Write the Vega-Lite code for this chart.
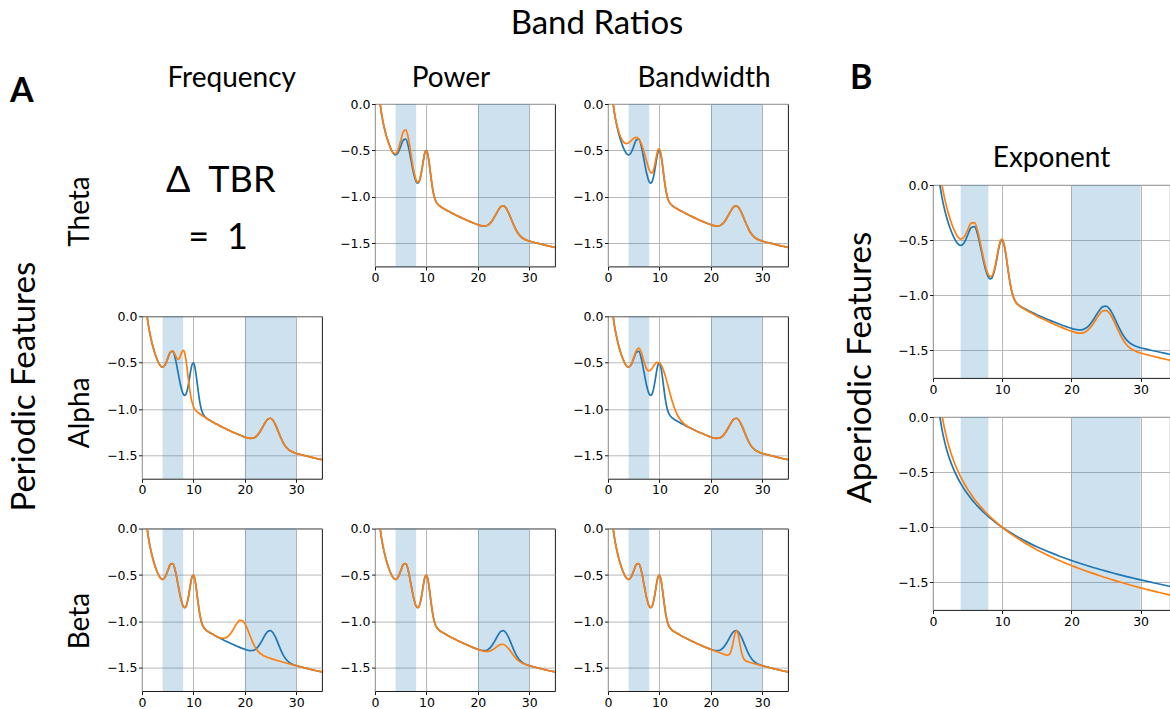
{
  "$schema": "https://vega.github.io/schema/vega-lite/v6.json",
  "background": "white",
  "padding": 0,
  "bounds": "flush",
  "spacing": 10,
  "datasets": {
    "bands": [{"f": 4, "f2": 8}, {"f": 20, "f2": 30}],
    "base": [
      {"f":1,"y":0.0},{"f":1.25,"y":-0.097},{"f":1.5,"y":-0.176},{"f":2,"y":-0.301},{"f":2.5,"y":-0.397},{"f":3,"y":-0.473},{"f":3.5,"y":-0.527},{"f":4,"y":-0.548},{"f":4.5,"y":-0.523},{"f":5,"y":-0.456},{"f":5.5,"y":-0.387},{"f":6,"y":-0.378},{"f":6.5,"y":-0.460},{"f":7,"y":-0.602},{"f":7.5,"y":-0.743},{"f":8,"y":-0.835},{"f":8.25,"y":-0.852},{"f":8.5,"y":-0.844},{"f":8.75,"y":-0.808},{"f":9,"y":-0.744},{"f":9.25,"y":-0.661},{"f":9.5,"y":-0.576},{"f":9.75,"y":-0.516},{"f":10,"y":-0.500},{"f":10.25,"y":-0.538},{"f":10.5,"y":-0.621},{"f":10.75,"y":-0.728},{"f":11,"y":-0.836},{"f":11.25,"y":-0.927},{"f":11.5,"y":-0.993},{"f":11.75,"y":-1.037},{"f":12,"y":-1.065},{"f":12.5,"y":-1.095},{"f":13,"y":-1.114},{"f":13.5,"y":-1.130},{"f":14,"y":-1.146},{"f":14.5,"y":-1.161},{"f":15,"y":-1.176},{"f":15.5,"y":-1.190},{"f":16,"y":-1.204},{"f":16.5,"y":-1.217},{"f":17,"y":-1.230},{"f":17.5,"y":-1.243},{"f":18,"y":-1.255},{"f":18.5,"y":-1.267},{"f":19,"y":-1.279},{"f":19.5,"y":-1.290},{"f":20,"y":-1.300},{"f":20.5,"y":-1.309},{"f":21,"y":-1.314},{"f":21.5,"y":-1.313},{"f":22,"y":-1.302},{"f":22.5,"y":-1.277},{"f":23,"y":-1.238},{"f":23.5,"y":-1.189},{"f":24,"y":-1.140},{"f":24.5,"y":-1.105},{"f":25,"y":-1.098},{"f":25.5,"y":-1.123},{"f":26,"y":-1.175},{"f":26.5,"y":-1.241},{"f":27,"y":-1.308},{"f":27.5,"y":-1.365},{"f":28,"y":-1.407},{"f":28.5,"y":-1.435},{"f":29,"y":-1.454},{"f":29.5,"y":-1.467},{"f":30,"y":-1.476},{"f":30.5,"y":-1.484},{"f":31,"y":-1.491},{"f":31.5,"y":-1.498},{"f":32,"y":-1.505},{"f":32.5,"y":-1.512},{"f":33,"y":-1.519},{"f":33.5,"y":-1.525},{"f":34,"y":-1.532},{"f":34.5,"y":-1.538},{"f":35,"y":-1.544}
    ],
    "orange": [
      {"p":"pT","f":2.5,"y":-0.397},{"p":"pT","f":3,"y":-0.472},{"p":"pT","f":3.5,"y":-0.523},{"p":"pT","f":4,"y":-0.535},{"p":"pT","f":4.5,"y":-0.491},{"p":"pT","f":5,"y":-0.395},{"p":"pT","f":5.5,"y":-0.299},{"p":"pT","f":6,"y":-0.278},{"p":"pT","f":6.5,"y":-0.372},{"p":"pT","f":7,"y":-0.541},{"p":"pT","f":7.5,"y":-0.711},{"p":"pT","f":8,"y":-0.822},{"p":"pT","f":8.25,"y":-0.844},{"p":"pT","f":8.5,"y":-0.840},{"p":"pT","f":8.75,"y":-0.806},{"p":"pT","f":9,"y":-0.743},{"p":"pT","f":9.25,"y":-0.661},{"p":"pT","f":9.5,"y":-0.576},{"p":"pT","f":9.75,"y":-0.516},{"p":"pT","f":10,"y":-0.500},
      {"p":"bT","f":1,"y":0.003},{"p":"bT","f":1.25,"y":-0.092},{"p":"bT","f":1.5,"y":-0.168},{"p":"bT","f":2,"y":-0.283},{"p":"bT","f":2.5,"y":-0.361},{"p":"bT","f":3,"y":-0.408},{"p":"bT","f":3.5,"y":-0.426},{"p":"bT","f":4,"y":-0.419},{"p":"bT","f":4.5,"y":-0.395},{"p":"bT","f":5,"y":-0.370},{"p":"bT","f":5.5,"y":-0.360},{"p":"bT","f":6,"y":-0.378},{"p":"bT","f":6.5,"y":-0.432},{"p":"bT","f":7,"y":-0.516},{"p":"bT","f":7.5,"y":-0.615},{"p":"bT","f":8,"y":-0.706},{"p":"bT","f":8.25,"y":-0.735},{"p":"bT","f":8.5,"y":-0.744},{"p":"bT","f":8.75,"y":-0.726},{"p":"bT","f":9,"y":-0.680},{"p":"bT","f":9.25,"y":-0.612},{"p":"bT","f":9.5,"y":-0.541},{"p":"bT","f":9.75,"y":-0.490},{"p":"bT","f":10,"y":-0.482},{"p":"bT","f":10.25,"y":-0.526},{"p":"bT","f":10.5,"y":-0.613},{"p":"bT","f":10.75,"y":-0.723},{"p":"bT","f":11,"y":-0.833},{"p":"bT","f":11.25,"y":-0.925},{"p":"bT","f":11.5,"y":-0.992},{"p":"bT","f":11.75,"y":-1.037},{"p":"bT","f":12,"y":-1.065},{"p":"bT","f":12.5,"y":-1.095},
      {"p":"fA","f":5,"y":-0.456},{"p":"fA","f":5.5,"y":-0.387},{"p":"fA","f":6,"y":-0.371},{"p":"fA","f":6.5,"y":-0.422},{"p":"fA","f":6.75,"y":-0.450},{"p":"fA","f":7,"y":-0.464},{"p":"fA","f":7.25,"y":-0.453},{"p":"fA","f":7.5,"y":-0.422},{"p":"fA","f":7.75,"y":-0.385},{"p":"fA","f":8,"y":-0.367},{"p":"fA","f":8.25,"y":-0.386},{"p":"fA","f":8.5,"y":-0.450},{"p":"fA","f":8.75,"y":-0.551},{"p":"fA","f":9,"y":-0.667},{"p":"fA","f":9.25,"y":-0.776},{"p":"fA","f":9.5,"y":-0.866},{"p":"fA","f":9.75,"y":-0.930},{"p":"fA","f":10,"y":-0.972},{"p":"fA","f":10.25,"y":-0.999},{"p":"fA","f":10.5,"y":-1.017},{"p":"fA","f":11,"y":-1.041},{"p":"fA","f":11.5,"y":-1.061},{"p":"fA","f":12,"y":-1.079},{"p":"fA","f":12.5,"y":-1.097},{"p":"fA","f":13,"y":-1.114},
      {"p":"bA","f":3,"y":-0.473},{"p":"bA","f":3.5,"y":-0.526},{"p":"bA","f":4,"y":-0.547},{"p":"bA","f":4.5,"y":-0.520},{"p":"bA","f":5,"y":-0.448},{"p":"bA","f":5.5,"y":-0.369},{"p":"bA","f":6,"y":-0.342},{"p":"bA","f":6.5,"y":-0.392},{"p":"bA","f":7,"y":-0.488},{"p":"bA","f":7.5,"y":-0.565},{"p":"bA","f":8,"y":-0.589},{"p":"bA","f":8.5,"y":-0.566},{"p":"bA","f":9,"y":-0.525},{"p":"bA","f":9.5,"y":-0.497},{"p":"bA","f":10,"y":-0.500},{"p":"bA","f":10.5,"y":-0.541},{"p":"bA","f":11,"y":-0.617},{"p":"bA","f":11.5,"y":-0.714},{"p":"bA","f":12,"y":-0.819},{"p":"bA","f":12.5,"y":-0.917},{"p":"bA","f":13,"y":-0.999},{"p":"bA","f":13.5,"y":-1.063},{"p":"bA","f":14,"y":-1.109},{"p":"bA","f":14.5,"y":-1.143},{"p":"bA","f":15,"y":-1.168},{"p":"bA","f":15.5,"y":-1.187},{"p":"bA","f":16,"y":-1.203},{"p":"bA","f":16.5,"y":-1.217},{"p":"bA","f":17,"y":-1.230},
      {"p":"fB","f":13.5,"y":-1.130},{"p":"fB","f":14,"y":-1.146},{"p":"fB","f":14.5,"y":-1.160},{"p":"fB","f":15,"y":-1.172},{"p":"fB","f":15.5,"y":-1.180},{"p":"fB","f":16,"y":-1.181},{"p":"fB","f":16.5,"y":-1.171},{"p":"fB","f":17,"y":-1.147},{"p":"fB","f":17.5,"y":-1.109},{"p":"fB","f":18,"y":-1.061},{"p":"fB","f":18.5,"y":-1.017},{"p":"fB","f":19,"y":-0.989},{"p":"fB","f":19.5,"y":-0.991},{"p":"fB","f":20,"y":-1.024},{"p":"fB","f":20.5,"y":-1.083},{"p":"fB","f":21,"y":-1.152},{"p":"fB","f":21.5,"y":-1.220},{"p":"fB","f":22,"y":-1.276},{"p":"fB","f":22.5,"y":-1.317},{"p":"fB","f":23,"y":-1.345},{"p":"fB","f":23.5,"y":-1.364},{"p":"fB","f":24,"y":-1.378},{"p":"fB","f":24.5,"y":-1.388},{"p":"fB","f":25,"y":-1.398},{"p":"fB","f":25.5,"y":-1.406},{"p":"fB","f":26,"y":-1.415},{"p":"fB","f":26.5,"y":-1.423},{"p":"fB","f":27,"y":-1.431},{"p":"fB","f":27.5,"y":-1.439},{"p":"fB","f":28,"y":-1.447},{"p":"fB","f":28.5,"y":-1.455},{"p":"fB","f":29,"y":-1.462},{"p":"fB","f":29.5,"y":-1.470},{"p":"fB","f":30,"y":-1.477},{"p":"fB","f":30.5,"y":-1.484},
      {"p":"pB","f":19.5,"y":-1.290},{"p":"pB","f":20,"y":-1.300},{"p":"pB","f":20.5,"y":-1.310},{"p":"pB","f":21,"y":-1.318},{"p":"pB","f":21.5,"y":-1.323},{"p":"pB","f":22,"y":-1.322},{"p":"pB","f":22.5,"y":-1.315},{"p":"pB","f":23,"y":-1.300},{"p":"pB","f":23.5,"y":-1.280},{"p":"pB","f":24,"y":-1.260},{"p":"pB","f":24.5,"y":-1.247},{"p":"pB","f":25,"y":-1.248},{"p":"pB","f":25.5,"y":-1.265},{"p":"pB","f":26,"y":-1.295},{"p":"pB","f":26.5,"y":-1.332},{"p":"pB","f":27,"y":-1.370},{"p":"pB","f":27.5,"y":-1.402},{"p":"pB","f":28,"y":-1.427},{"p":"pB","f":28.5,"y":-1.445},{"p":"pB","f":29,"y":-1.458},{"p":"pB","f":29.5,"y":-1.468},{"p":"pB","f":30,"y":-1.477},{"p":"pB","f":30.5,"y":-1.484},
      {"p":"bB","f":19.5,"y":-1.290},{"p":"bB","f":20,"y":-1.301},{"p":"bB","f":20.5,"y":-1.312},{"p":"bB","f":21,"y":-1.322},{"p":"bB","f":21.5,"y":-1.332},{"p":"bB","f":22,"y":-1.342},{"p":"bB","f":22.5,"y":-1.352},{"p":"bB","f":23,"y":-1.361},{"p":"bB","f":23.25,"y":-1.362},{"p":"bB","f":23.5,"y":-1.358},{"p":"bB","f":23.75,"y":-1.341},{"p":"bB","f":24,"y":-1.305},{"p":"bB","f":24.25,"y":-1.247},{"p":"bB","f":24.5,"y":-1.177},{"p":"bB","f":24.75,"y":-1.119},{"p":"bB","f":25,"y":-1.098},{"p":"bB","f":25.25,"y":-1.127},{"p":"bB","f":25.5,"y":-1.195},{"p":"bB","f":25.75,"y":-1.274},{"p":"bB","f":26,"y":-1.340},{"p":"bB","f":26.25,"y":-1.385},{"p":"bB","f":26.5,"y":-1.410},{"p":"bB","f":26.75,"y":-1.423},{"p":"bB","f":27,"y":-1.430},{"p":"bB","f":27.5,"y":-1.439},{"p":"bB","f":28,"y":-1.447},{"p":"bB","f":28.5,"y":-1.455},{"p":"bB","f":29,"y":-1.462},{"p":"bB","f":29.5,"y":-1.470},{"p":"bB","f":30,"y":-1.477},{"p":"bB","f":30.5,"y":-1.484},
      {"p":"ex","f":1,"y":0.130},{"p":"ex","f":1.25,"y":0.021},{"p":"ex","f":1.5,"y":-0.067},{"p":"ex","f":2,"y":-0.207},{"p":"ex","f":2.5,"y":-0.315},{"p":"ex","f":3,"y":-0.400},{"p":"ex","f":3.5,"y":-0.462},{"p":"ex","f":4,"y":-0.490},{"p":"ex","f":4.5,"y":-0.471},{"p":"ex","f":5,"y":-0.410},{"p":"ex","f":5.5,"y":-0.346},{"p":"ex","f":6,"y":-0.341},{"p":"ex","f":6.5,"y":-0.428},{"p":"ex","f":7,"y":-0.573},{"p":"ex","f":7.5,"y":-0.718},{"p":"ex","f":8,"y":-0.813},{"p":"ex","f":8.25,"y":-0.832},{"p":"ex","f":8.5,"y":-0.826},{"p":"ex","f":8.75,"y":-0.791},{"p":"ex","f":9,"y":-0.729},{"p":"ex","f":9.25,"y":-0.647},{"p":"ex","f":9.5,"y":-0.563},{"p":"ex","f":9.75,"y":-0.505},{"p":"ex","f":10,"y":-0.490},{"p":"ex","f":10.25,"y":-0.529},{"p":"ex","f":10.5,"y":-0.614},{"p":"ex","f":10.75,"y":-0.722},{"p":"ex","f":11,"y":-0.831},{"p":"ex","f":11.25,"y":-0.923},{"p":"ex","f":11.5,"y":-0.990},{"p":"ex","f":11.75,"y":-1.035},{"p":"ex","f":12,"y":-1.065},{"p":"ex","f":12.5,"y":-1.097},{"p":"ex","f":13,"y":-1.118},{"p":"ex","f":13.5,"y":-1.136},{"p":"ex","f":14,"y":-1.154},{"p":"ex","f":14.5,"y":-1.170},{"p":"ex","f":15,"y":-1.187},{"p":"ex","f":15.5,"y":-1.203},{"p":"ex","f":16,"y":-1.218},{"p":"ex","f":16.5,"y":-1.233},{"p":"ex","f":17,"y":-1.248},{"p":"ex","f":17.5,"y":-1.262},{"p":"ex","f":18,"y":-1.276},{"p":"ex","f":18.5,"y":-1.289},{"p":"ex","f":19,"y":-1.302},{"p":"ex","f":19.5,"y":-1.315},{"p":"ex","f":20,"y":-1.326},{"p":"ex","f":20.5,"y":-1.336},{"p":"ex","f":21,"y":-1.343},{"p":"ex","f":21.5,"y":-1.343},{"p":"ex","f":22,"y":-1.333},{"p":"ex","f":22.5,"y":-1.309},{"p":"ex","f":23,"y":-1.271},{"p":"ex","f":23.5,"y":-1.224},{"p":"ex","f":24,"y":-1.176},{"p":"ex","f":24.5,"y":-1.142},{"p":"ex","f":25,"y":-1.136},{"p":"ex","f":25.5,"y":-1.162},{"p":"ex","f":26,"y":-1.215},{"p":"ex","f":26.5,"y":-1.282},{"p":"ex","f":27,"y":-1.350},{"p":"ex","f":27.5,"y":-1.408},{"p":"ex","f":28,"y":-1.451},{"p":"ex","f":28.5,"y":-1.480},{"p":"ex","f":29,"y":-1.499},{"p":"ex","f":29.5,"y":-1.513},{"p":"ex","f":30,"y":-1.523},{"p":"ex","f":30.5,"y":-1.532},{"p":"ex","f":31,"y":-1.540},{"p":"ex","f":31.5,"y":-1.548},{"p":"ex","f":32,"y":-1.556},{"p":"ex","f":32.5,"y":-1.563},{"p":"ex","f":33,"y":-1.571},{"p":"ex","f":33.5,"y":-1.578},{"p":"ex","f":34,"y":-1.586},{"p":"ex","f":34.5,"y":-1.593},{"p":"ex","f":35,"y":-1.599}
    ],
    "aper": [
      {"c":"b","f":1,"y":0.0},{"c":"b","f":1.25,"y":-0.097},{"c":"b","f":1.5,"y":-0.176},{"c":"b","f":2,"y":-0.301},{"c":"b","f":2.5,"y":-0.398},{"c":"b","f":3,"y":-0.477},{"c":"b","f":3.5,"y":-0.544},{"c":"b","f":4,"y":-0.602},{"c":"b","f":4.5,"y":-0.653},{"c":"b","f":5,"y":-0.699},{"c":"b","f":5.5,"y":-0.740},{"c":"b","f":6,"y":-0.778},{"c":"b","f":6.5,"y":-0.813},{"c":"b","f":7,"y":-0.845},{"c":"b","f":7.5,"y":-0.875},{"c":"b","f":8,"y":-0.903},{"c":"b","f":8.5,"y":-0.929},{"c":"b","f":9,"y":-0.954},{"c":"b","f":9.5,"y":-0.978},{"c":"b","f":10,"y":-1.000},{"c":"b","f":11,"y":-1.041},{"c":"b","f":12,"y":-1.079},{"c":"b","f":13,"y":-1.114},{"c":"b","f":14,"y":-1.146},{"c":"b","f":15,"y":-1.176},{"c":"b","f":16,"y":-1.204},{"c":"b","f":17,"y":-1.230},{"c":"b","f":18,"y":-1.255},{"c":"b","f":19,"y":-1.279},{"c":"b","f":20,"y":-1.301},{"c":"b","f":21,"y":-1.322},{"c":"b","f":22,"y":-1.342},{"c":"b","f":23,"y":-1.362},{"c":"b","f":24,"y":-1.380},{"c":"b","f":25,"y":-1.398},{"c":"b","f":26,"y":-1.415},{"c":"b","f":27,"y":-1.431},{"c":"b","f":28,"y":-1.447},{"c":"b","f":29,"y":-1.462},{"c":"b","f":30,"y":-1.477},{"c":"b","f":31,"y":-1.491},{"c":"b","f":32,"y":-1.505},{"c":"b","f":33,"y":-1.519},{"c":"b","f":34,"y":-1.532},{"c":"b","f":35,"y":-1.544},
      {"c":"o","f":1,"y":0.150},{"c":"o","f":1.25,"y":0.039},{"c":"o","f":1.5,"y":-0.053},{"c":"o","f":2,"y":-0.196},{"c":"o","f":2.5,"y":-0.308},{"c":"o","f":3,"y":-0.399},{"c":"o","f":3.5,"y":-0.476},{"c":"o","f":4,"y":-0.542},{"c":"o","f":4.5,"y":-0.601},{"c":"o","f":5,"y":-0.654},{"c":"o","f":5.5,"y":-0.701},{"c":"o","f":6,"y":-0.745},{"c":"o","f":6.5,"y":-0.785},{"c":"o","f":7,"y":-0.822},{"c":"o","f":7.5,"y":-0.856},{"c":"o","f":8,"y":-0.889},{"c":"o","f":8.5,"y":-0.919},{"c":"o","f":9,"y":-0.947},{"c":"o","f":9.5,"y":-0.974},{"c":"o","f":10,"y":-1.000},{"c":"o","f":11,"y":-1.048},{"c":"o","f":12,"y":-1.091},{"c":"o","f":13,"y":-1.131},{"c":"o","f":14,"y":-1.168},{"c":"o","f":15,"y":-1.203},{"c":"o","f":16,"y":-1.235},{"c":"o","f":17,"y":-1.265},{"c":"o","f":18,"y":-1.294},{"c":"o","f":19,"y":-1.321},{"c":"o","f":20,"y":-1.346},{"c":"o","f":21,"y":-1.371},{"c":"o","f":22,"y":-1.394},{"c":"o","f":23,"y":-1.416},{"c":"o","f":24,"y":-1.437},{"c":"o","f":25,"y":-1.458},{"c":"o","f":26,"y":-1.477},{"c":"o","f":27,"y":-1.496},{"c":"o","f":28,"y":-1.514},{"c":"o","f":29,"y":-1.532},{"c":"o","f":30,"y":-1.549},{"c":"o","f":31,"y":-1.565},{"c":"o","f":32,"y":-1.581},{"c":"o","f":33,"y":-1.596},{"c":"o","f":34,"y":-1.611},{"c":"o","f":35,"y":-1.626}
    ]
  },
  "vconcat": [
    {
      "width": 1170, "height": 94, "view": {"stroke": null},
      "data": {"values": [{}]},
      "layer": [
        {"mark": {"type": "text", "text": "Band Ratios", "x": 597, "y": 34, "align": "center", "baseline": "alphabetic", "font": "Lato", "fontSize": 33, "color": "black"}, "encoding": {}},
        {"mark": {"type": "text", "text": "A", "x": 10, "y": 102, "align": "left", "baseline": "alphabetic", "font": "Lato", "fontSize": 34, "fontWeight": "bold", "color": "black"}, "encoding": {}},
        {"mark": {"type": "text", "text": "B", "x": 850, "y": 89, "align": "left", "baseline": "alphabetic", "font": "Lato", "fontSize": 34, "fontWeight": "bold", "color": "black"}, "encoding": {}},
        {"mark": {"type": "text", "text": "Frequency", "x": 231.7, "y": 87, "align": "center", "baseline": "alphabetic", "font": "Lato", "fontSize": 28, "color": "black"}, "encoding": {}},
        {"mark": {"type": "text", "text": "Power", "x": 451, "y": 87, "align": "center", "baseline": "alphabetic", "font": "Lato", "fontSize": 28, "color": "black"}, "encoding": {}},
        {"mark": {"type": "text", "text": "Bandwidth", "x": 704, "y": 87, "align": "center", "baseline": "alphabetic", "font": "Lato", "fontSize": 28, "color": "black"}, "encoding": {}}
      ]
    },
    {
      "spacing": 10,
      "hconcat": [
        {
          "width": 54.7, "height": 587, "view": {"stroke": null},
          "data": {"values": [{}]},
          "mark": {"type": "text", "text": "Periodic Features", "x": 24.5, "y": 282.7, "angle": 270, "align": "center", "baseline": "middle", "font": "Lato", "fontSize": 33, "color": "black"},
          "encoding": {}
        },
        {
          "columns": 3,
          "spacing": {"row": 49.3, "column": 53},
          "bounds": "flush",
          "concat": [
            {
              "width": 180, "height": 162.5, "view": {"stroke": null},
              "data": {"values": [{}]},
              "layer": [
                {
                  "mark": {"type": "text", "text": "Δ\u2002TBR", "align": "center", "baseline": "alphabetic", "font": "Lato", "fontSize": 36, "color": "black"},
                  "encoding": {
                    "x": {"datum": 15.3, "type": "quantitative", "scale": {"domain": [0, 35], "nice": false, "zero": false}, "axis": null},
                    "y": {"datum": -0.944, "type": "quantitative", "scale": {"domain": [-1.75, 0], "nice": false, "zero": false}, "axis": {"title": "Theta", "labels": false, "ticks": false, "domain": false, "grid": false, "titleX": -62, "titleY": 107, "titleAngle": 270, "titleAlign": "center", "titleBaseline": "middle"}}
                  }
                },
                {
                  "mark": {"type": "text", "text": "=\u20021", "align": "center", "baseline": "alphabetic", "font": "Lato", "fontSize": 36, "color": "black"},
                  "encoding": {
                    "x": {"datum": 14.8, "type": "quantitative"},
                    "y": {"datum": -1.565, "type": "quantitative"}
                  }
                }
              ]
            },
            {
              "width": 180, "height": 162.5,
              "encoding": {"x": {"field": "f", "type": "quantitative", "scale": {"domain": [0, 35], "nice": false, "zero": false}, "axis": {"values": [0, 10, 20, 30], "title": null}}},
              "layer": [
                {"data": {"name": "bands"}, "mark": {"type": "rect", "color": "#1f77b4", "fillOpacity": 0.22, "strokeWidth": 0}, "encoding": {"x2": {"field": "f2"}}},
                {"data": {"name": "base"}, "mark": {"type": "line", "color": "#1f77b4", "clip": true}, "encoding": {"y": {"field": "y", "type": "quantitative", "scale": {"domain": [-1.75, 0], "nice": false, "zero": false}, "axis": {"values": [0, -0.5, -1, -1.5], "format": ".1f", "title": null}}}},
                {"data": {"name": "base"}, "transform": [{"filter": "datum.f <= 2.5"}], "mark": {"type": "line", "color": "#ff7f0e", "clip": true}, "encoding": {"y": {"field": "y", "type": "quantitative"}}},
                {"data": {"name": "orange"}, "transform": [{"filter": "datum.p == 'pT'"}], "mark": {"type": "line", "color": "#ff7f0e", "clip": true}, "encoding": {"y": {"field": "y", "type": "quantitative"}}},
                {"data": {"name": "base"}, "transform": [{"filter": "datum.f >= 10"}], "mark": {"type": "line", "color": "#ff7f0e", "clip": true}, "encoding": {"y": {"field": "y", "type": "quantitative"}}}
              ]
            },
            {
              "width": 180, "height": 162.5,
              "encoding": {"x": {"field": "f", "type": "quantitative", "scale": {"domain": [0, 35], "nice": false, "zero": false}, "axis": {"values": [0, 10, 20, 30], "title": null}}},
              "layer": [
                {"data": {"name": "bands"}, "mark": {"type": "rect", "color": "#1f77b4", "fillOpacity": 0.22, "strokeWidth": 0}, "encoding": {"x2": {"field": "f2"}}},
                {"data": {"name": "base"}, "mark": {"type": "line", "color": "#1f77b4", "clip": true}, "encoding": {"y": {"field": "y", "type": "quantitative", "scale": {"domain": [-1.75, 0], "nice": false, "zero": false}, "axis": {"values": [0, -0.5, -1, -1.5], "format": ".1f", "title": null}}}},
                {"data": {"name": "orange"}, "transform": [{"filter": "datum.p == 'bT'"}], "mark": {"type": "line", "color": "#ff7f0e", "clip": true}, "encoding": {"y": {"field": "y", "type": "quantitative"}}},
                {"data": {"name": "base"}, "transform": [{"filter": "datum.f >= 12.5"}], "mark": {"type": "line", "color": "#ff7f0e", "clip": true}, "encoding": {"y": {"field": "y", "type": "quantitative"}}}
              ]
            },
            {
              "width": 180, "height": 162.5,
              "encoding": {"x": {"field": "f", "type": "quantitative", "scale": {"domain": [0, 35], "nice": false, "zero": false}, "axis": {"values": [0, 10, 20, 30], "title": null}}},
              "layer": [
                {"data": {"name": "bands"}, "mark": {"type": "rect", "color": "#1f77b4", "fillOpacity": 0.22, "strokeWidth": 0}, "encoding": {"x2": {"field": "f2"}}},
                {"data": {"name": "base"}, "mark": {"type": "line", "color": "#1f77b4", "clip": true}, "encoding": {"y": {"field": "y", "type": "quantitative", "scale": {"domain": [-1.75, 0], "nice": false, "zero": false}, "axis": {"values": [0, -0.5, -1, -1.5], "format": ".1f", "title": "Alpha", "titleX": -62, "titleY": 96, "titleAngle": 270, "titleAlign": "center", "titleBaseline": "middle"}}}},
                {"data": {"name": "base"}, "transform": [{"filter": "datum.f <= 5"}], "mark": {"type": "line", "color": "#ff7f0e", "clip": true}, "encoding": {"y": {"field": "y", "type": "quantitative"}}},
                {"data": {"name": "orange"}, "transform": [{"filter": "datum.p == 'fA'"}], "mark": {"type": "line", "color": "#ff7f0e", "clip": true}, "encoding": {"y": {"field": "y", "type": "quantitative"}}},
                {"data": {"name": "base"}, "transform": [{"filter": "datum.f >= 13"}], "mark": {"type": "line", "color": "#ff7f0e", "clip": true}, "encoding": {"y": {"field": "y", "type": "quantitative"}}}
              ]
            },
            {
              "width": 180, "height": 162.5, "view": {"stroke": null},
              "data": {"values": [{}]},
              "mark": {"type": "text", "text": ""},
              "encoding": {}
            },
            {
              "width": 180, "height": 162.5,
              "encoding": {"x": {"field": "f", "type": "quantitative", "scale": {"domain": [0, 35], "nice": false, "zero": false}, "axis": {"values": [0, 10, 20, 30], "title": null}}},
              "layer": [
                {"data": {"name": "bands"}, "mark": {"type": "rect", "color": "#1f77b4", "fillOpacity": 0.22, "strokeWidth": 0}, "encoding": {"x2": {"field": "f2"}}},
                {"data": {"name": "base"}, "mark": {"type": "line", "color": "#1f77b4", "clip": true}, "encoding": {"y": {"field": "y", "type": "quantitative", "scale": {"domain": [-1.75, 0], "nice": false, "zero": false}, "axis": {"values": [0, -0.5, -1, -1.5], "format": ".1f", "title": null}}}},
                {"data": {"name": "base"}, "transform": [{"filter": "datum.f <= 3"}], "mark": {"type": "line", "color": "#ff7f0e", "clip": true}, "encoding": {"y": {"field": "y", "type": "quantitative"}}},
                {"data": {"name": "orange"}, "transform": [{"filter": "datum.p == 'bA'"}], "mark": {"type": "line", "color": "#ff7f0e", "clip": true}, "encoding": {"y": {"field": "y", "type": "quantitative"}}},
                {"data": {"name": "base"}, "transform": [{"filter": "datum.f >= 17"}], "mark": {"type": "line", "color": "#ff7f0e", "clip": true}, "encoding": {"y": {"field": "y", "type": "quantitative"}}}
              ]
            },
            {
              "width": 180, "height": 162.5,
              "encoding": {"x": {"field": "f", "type": "quantitative", "scale": {"domain": [0, 35], "nice": false, "zero": false}, "axis": {"values": [0, 10, 20, 30], "title": null}}},
              "layer": [
                {"data": {"name": "bands"}, "mark": {"type": "rect", "color": "#1f77b4", "fillOpacity": 0.22, "strokeWidth": 0}, "encoding": {"x2": {"field": "f2"}}},
                {"data": {"name": "base"}, "mark": {"type": "line", "color": "#1f77b4", "clip": true}, "encoding": {"y": {"field": "y", "type": "quantitative", "scale": {"domain": [-1.75, 0], "nice": false, "zero": false}, "axis": {"values": [0, -0.5, -1, -1.5], "format": ".1f", "title": "Beta", "titleX": -62, "titleY": 92, "titleAngle": 270, "titleAlign": "center", "titleBaseline": "middle"}}}},
                {"data": {"name": "base"}, "transform": [{"filter": "datum.f <= 13.5"}], "mark": {"type": "line", "color": "#ff7f0e", "clip": true}, "encoding": {"y": {"field": "y", "type": "quantitative"}}},
                {"data": {"name": "orange"}, "transform": [{"filter": "datum.p == 'fB'"}], "mark": {"type": "line", "color": "#ff7f0e", "clip": true}, "encoding": {"y": {"field": "y", "type": "quantitative"}}},
                {"data": {"name": "base"}, "transform": [{"filter": "datum.f >= 30.5"}], "mark": {"type": "line", "color": "#ff7f0e", "clip": true}, "encoding": {"y": {"field": "y", "type": "quantitative"}}}
              ]
            },
            {
              "width": 180, "height": 162.5,
              "encoding": {"x": {"field": "f", "type": "quantitative", "scale": {"domain": [0, 35], "nice": false, "zero": false}, "axis": {"values": [0, 10, 20, 30], "title": null}}},
              "layer": [
                {"data": {"name": "bands"}, "mark": {"type": "rect", "color": "#1f77b4", "fillOpacity": 0.22, "strokeWidth": 0}, "encoding": {"x2": {"field": "f2"}}},
                {"data": {"name": "base"}, "mark": {"type": "line", "color": "#1f77b4", "clip": true}, "encoding": {"y": {"field": "y", "type": "quantitative", "scale": {"domain": [-1.75, 0], "nice": false, "zero": false}, "axis": {"values": [0, -0.5, -1, -1.5], "format": ".1f", "title": null}}}},
                {"data": {"name": "base"}, "transform": [{"filter": "datum.f <= 19.5"}], "mark": {"type": "line", "color": "#ff7f0e", "clip": true}, "encoding": {"y": {"field": "y", "type": "quantitative"}}},
                {"data": {"name": "orange"}, "transform": [{"filter": "datum.p == 'pB'"}], "mark": {"type": "line", "color": "#ff7f0e", "clip": true}, "encoding": {"y": {"field": "y", "type": "quantitative"}}},
                {"data": {"name": "base"}, "transform": [{"filter": "datum.f >= 30.5"}], "mark": {"type": "line", "color": "#ff7f0e", "clip": true}, "encoding": {"y": {"field": "y", "type": "quantitative"}}}
              ]
            },
            {
              "width": 180, "height": 162.5,
              "encoding": {"x": {"field": "f", "type": "quantitative", "scale": {"domain": [0, 35], "nice": false, "zero": false}, "axis": {"values": [0, 10, 20, 30], "title": null}}},
              "layer": [
                {"data": {"name": "bands"}, "mark": {"type": "rect", "color": "#1f77b4", "fillOpacity": 0.22, "strokeWidth": 0}, "encoding": {"x2": {"field": "f2"}}},
                {"data": {"name": "base"}, "mark": {"type": "line", "color": "#1f77b4", "clip": true}, "encoding": {"y": {"field": "y", "type": "quantitative", "scale": {"domain": [-1.75, 0], "nice": false, "zero": false}, "axis": {"values": [0, -0.5, -1, -1.5], "format": ".1f", "title": null}}}},
                {"data": {"name": "base"}, "transform": [{"filter": "datum.f <= 19.5"}], "mark": {"type": "line", "color": "#ff7f0e", "clip": true}, "encoding": {"y": {"field": "y", "type": "quantitative"}}},
                {"data": {"name": "orange"}, "transform": [{"filter": "datum.p == 'bB'"}], "mark": {"type": "line", "color": "#ff7f0e", "clip": true}, "encoding": {"y": {"field": "y", "type": "quantitative"}}},
                {"data": {"name": "base"}, "transform": [{"filter": "datum.f >= 30.5"}], "mark": {"type": "line", "color": "#ff7f0e", "clip": true}, "encoding": {"y": {"field": "y", "type": "quantitative"}}}
              ]
            }
          ]
        },
        {
          "width": 87.3, "height": 587, "view": {"stroke": null},
          "data": {"values": [{}]},
          "mark": {"type": "text", "text": "Aperiodic Features", "x": 61.85, "y": 263.5, "angle": 270, "align": "center", "baseline": "middle", "font": "Lato", "fontSize": 33, "color": "black"},
          "encoding": {}
        },
        {
          "spacing": 39,
          "bounds": "flush",
          "vconcat": [
            {
              "width": 237, "height": 42, "view": {"stroke": null},
              "data": {"values": [{}]},
              "mark": {"type": "text", "text": ""},
              "encoding": {}
            },
            {
              "width": 237, "height": 193, "title": "Exponent",
              "encoding": {"x": {"field": "f", "type": "quantitative", "scale": {"domain": [0, 34.25], "nice": false, "zero": false}, "axis": {"values": [0, 10, 20, 30], "title": null}}},
              "layer": [
                {"data": {"name": "bands"}, "mark": {"type": "rect", "color": "#1f77b4", "fillOpacity": 0.22, "strokeWidth": 0}, "encoding": {"x2": {"field": "f2"}}},
                {"data": {"name": "base"}, "mark": {"type": "line", "color": "#1f77b4", "clip": true}, "encoding": {"y": {"field": "y", "type": "quantitative", "scale": {"domain": [-1.75, 0], "nice": false, "zero": false}, "axis": {"values": [0, -0.5, -1, -1.5], "format": ".1f", "title": null}}}},
                {"data": {"name": "orange"}, "transform": [{"filter": "datum.p == 'ex'"}], "mark": {"type": "line", "color": "#ff7f0e", "clip": true}, "encoding": {"y": {"field": "y", "type": "quantitative"}}}
              ]
            },
            {
              "width": 237, "height": 193,
              "encoding": {"x": {"field": "f", "type": "quantitative", "scale": {"domain": [0, 34.25], "nice": false, "zero": false}, "axis": {"values": [0, 10, 20, 30], "title": null}}},
              "layer": [
                {"data": {"name": "bands"}, "mark": {"type": "rect", "color": "#1f77b4", "fillOpacity": 0.22, "strokeWidth": 0}, "encoding": {"x2": {"field": "f2"}}},
                {"data": {"name": "aper"}, "transform": [{"filter": "datum.c == 'b'"}], "mark": {"type": "line", "color": "#1f77b4", "clip": true}, "encoding": {"y": {"field": "y", "type": "quantitative", "scale": {"domain": [-1.75, 0], "nice": false, "zero": false}, "axis": {"values": [0, -0.5, -1, -1.5], "format": ".1f", "title": null}}}},
                {"data": {"name": "aper"}, "transform": [{"filter": "datum.c == 'o'"}], "mark": {"type": "line", "color": "#ff7f0e", "clip": true}, "encoding": {"y": {"field": "y", "type": "quantitative"}}}
              ]
            }
          ]
        }
      ]
    }
  ],
  "config": {
    "view": {"stroke": "black", "strokeWidth": 0.9},
    "axis": {"labelFont": "DejaVu Sans", "labelFontSize": 12.5, "labelColor": "black", "labelFlush": false, "tickColor": "black", "tickSize": 3.5, "tickWidth": 0.9, "domain": false, "grid": true, "gridColor": "#b0b0b0", "gridWidth": 0.9, "labelPadding": 1.5, "titleFont": "Lato", "titleFontSize": 28, "titleFontWeight": "normal", "titleColor": "black"},
    "title": {"font": "Lato", "fontSize": 28, "fontWeight": "normal", "color": "black", "baseline": "alphabetic", "offset": 6, "frame": "group", "anchor": "middle"},
    "line": {"strokeWidth": 1.7, "interpolate": "monotone"}
  }
}
